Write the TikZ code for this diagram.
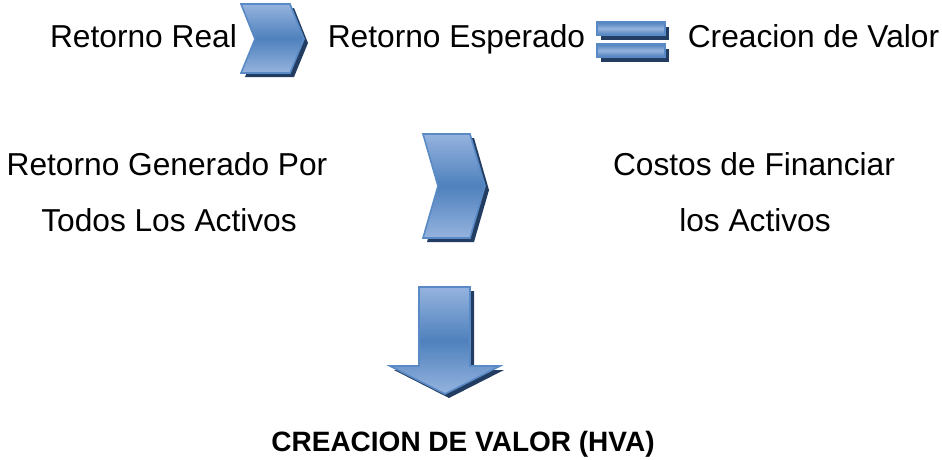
\documentclass[tikz,border=0pt]{standalone}
\usepackage{fontspec}
\setmainfont{Liberation Sans}
\usepackage{tikz}

\definecolor{azulclaro}{HTML}{95B3DE}
\definecolor{azulmedio}{HTML}{4F81BD}
\definecolor{azulborde}{HTML}{5A8AC6}
\definecolor{azulsombra}{HTML}{223D61}

\begin{document}
\begin{tikzpicture}[x=1pt, y=-1pt, every node/.style={inner sep=0pt, anchor=base, font=\fontsize{31.7}{38}\selectfont}, forma/.style={draw=azulborde, line width=1.6pt, top color=azulclaro, bottom color=azulclaro, middle color=azulmedio}, barra/.style={draw=azulborde, line width=1.2pt, top color=azulmedio, bottom color=azulmedio, middle color=azulclaro}, sombra/.style={fill=azulsombra, draw=none}]
			\useasboundingbox (0,0) rectangle (942,459);
			
			\node (real) at (143.5,47){Retorno Real};
			\node (esperado) at (456.5,47){Retorno Esperado};
			\node (valor) at (813.5,47){Creacion de Valor};
			\node (generado) at (167,175){Retorno Generado Por};
			\node (todos) at (169,231){Todos Los Activos};
			\node (costos) at (754,175){Costos de Financiar};
			\node (losactivos) at (755,231){los Activos};
			\node[font=\bfseries\fontsize{28}{34}\selectfont] (hva) at (463,451){CREACION DE VALOR (HVA)};
			
			\path[sombra, shift={(4,4)}] (241,4) -- (290,4) -- (304,39) -- (290,73) -- (241,73) -- (255,39) -- cycle;
			\path[forma] (241,4) -- (290,4) -- (304,39) -- (290,73) -- (241,73) -- (255,39) -- cycle;
			
			\path[sombra, shift={(4,5)}] (597,22) rectangle (665,35);
			\path[sombra, shift={(4,5)}] (597,44) rectangle (665,57);
			\path[barra] (597,22) rectangle (665,35);
			\path[barra] (597,44) rectangle (665,57);
			
			\path[sombra, shift={(4,4)}] (423,134) -- (470,134) -- (485,186) -- (470,238) -- (423,238) -- (438,186) -- cycle;
			\path[forma] (423,134) -- (470,134) -- (485,186) -- (470,238) -- (423,238) -- (438,186) -- cycle;
			
			\path[sombra, shift={(4,4)}] (419,287) -- (470,287) -- (470,366) -- (500,366) -- (445,394) -- (390,366) -- (419,366) -- cycle;
			\path[forma] (419,287) -- (470,287) -- (470,366) -- (500,366) -- (445,394) -- (390,366) -- (419,366) -- cycle;
\end{tikzpicture}
\end{document}
